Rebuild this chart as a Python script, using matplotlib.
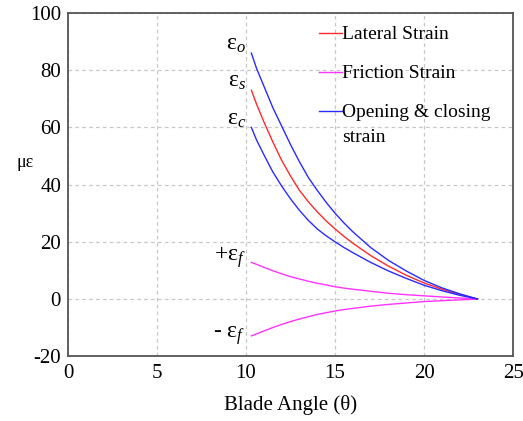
import matplotlib
matplotlib.use("Agg")
import matplotlib.pyplot as plt

# blade angle samples (deg)
angle = [10.3, 10.6, 11, 11.5, 12, 12.5, 13, 13.5, 14, 14.5, 15, 15.5, 16, 17, 18, 19, 20, 21, 22, 23]

# strain readings (micro-strain)
lateral = [73, 68, 62, 55, 48.5, 43, 38, 34, 30.5, 27.3, 24.5, 21.9, 19.5, 15.2, 11.5, 8.3, 5.6, 3.4, 1.6, 0]
opening = [86, 80.5, 74.5, 67, 60.5, 54, 48, 42.5, 38, 33.8, 30, 26.6, 23.5, 18, 13.5, 9.8, 6.5, 3.9, 1.8, 0]
closing = [60, 55.5, 50.5, 44.5, 39.5, 35, 31, 27.5, 24.5, 22.1, 20, 18.0, 16.2, 12.8, 9.8, 7.2, 4.8, 2.9, 1.3, 0]
friction_pos = [12.8, 12.1, 11.1, 9.9, 8.8, 7.8, 7.0, 6.2, 5.5, 4.9, 4.3, 3.8, 3.4, 2.7, 2.0, 1.5, 1.1, 0.7, 0.35, 0]
friction_neg = [-12.9, -12.2, -11.2, -10.0, -8.9, -7.9, -7.0, -6.2, -5.4, -4.8, -4.2, -3.7, -3.3, -2.5, -1.9, -1.4, -0.9, -0.6, -0.3, 0]

x_ticks = [0, 5, 10, 15, 20, 25]
y_ticks = [-20, 0, 20, 40, 60, 80, 100]

plt.rcParams["font.family"] = ["Liberation Serif", "DejaVu Serif"]
plt.rcParams["mathtext.fontset"] = "custom"
plt.rcParams["mathtext.rm"] = "Liberation Serif"
plt.rcParams["mathtext.it"] = "Liberation Serif:italic"
plt.rcParams["axes.unicode_minus"] = False

fig = plt.figure(figsize=(5.23, 4.21), dpi=100)
ax = fig.add_axes([0.130, 0.154, 0.851, 0.815])

red = "#ff2a2a"
pink = "#ff33ff"
blue = "#2b2bff"

ax.plot(angle, lateral, color=red, lw=1.0, label="Lateral Strain")
ax.plot(angle, friction_pos, color=pink, lw=1.0, label="Friction Strain")
ax.plot(angle, friction_neg, color=pink, lw=1.0)
ax.plot(angle, opening, color=blue, lw=1.0, label="Opening & closing")
ax.plot(angle, closing, color=blue, lw=1.0)

# curve tags at the start of each curve
tags = [
    (opening, r"$\mathrm{\varepsilon}_{o}$", 6),
    (lateral, r"$\mathrm{\varepsilon}_{s}$", 6),
    (closing, r"$\mathrm{\varepsilon}_{c}$", 6),
    (friction_pos, r"+$\mathrm{\varepsilon}_{f}$", 4),
    (friction_neg, r"- $\mathrm{\varepsilon}_{f}$", 0),
]
for series, tag, dy in tags:
    ax.annotate(tag, xy=(angle[0], series[0]), xytext=(-4, dy),
                textcoords="offset points", ha="right", va="center",
                fontsize=17)

ax.set_xlim(0, 25)
ax.set_ylim(-20, 100)
ax.set_xticks(x_ticks)
ax.set_yticks(y_ticks)
ax.tick_params(length=0, labelsize=15)
ax.tick_params(axis="x", pad=6)
ax.tick_params(axis="y", pad=5)
ax.grid(True, color="#c8c8c8", linestyle=(0, (3, 2.5)), lw=0.9)

for spine in ax.spines.values():
    spine.set_color("#555555")
    spine.set_linewidth(1.3)

ax.set_xlabel("Blade Angle (θ)", fontsize=15, labelpad=8)
ax.set_ylabel("με", fontsize=13, rotation=0)
ax.yaxis.set_label_coords(-0.097, 0.54)

leg = ax.legend(loc="upper left", bbox_to_anchor=(0.564, 0.963), frameon=False,
                fontsize=14, handlelength=1.2, handletextpad=0.0,
                labelspacing=1.1, borderpad=0, borderaxespad=0)

# second line of the last legend entry, under its first line
fig.canvas.draw()
bb = leg.get_texts()[2].get_window_extent().transformed(ax.transAxes.inverted())
ax.text(bb.x0, bb.y0 - 0.022, "strain", transform=ax.transAxes,
        fontsize=14, ha="left", va="top")

fig.savefig("out.png", dpi=100)
